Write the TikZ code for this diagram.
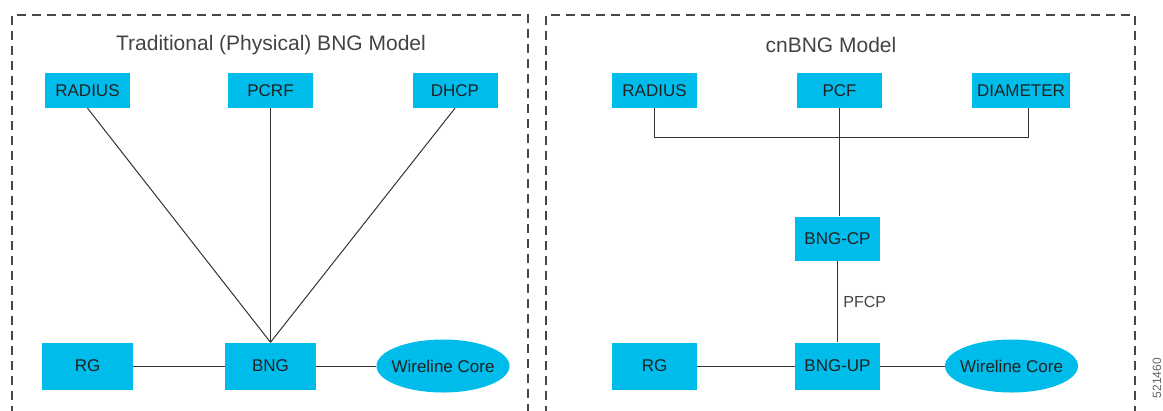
\documentclass[tikz,border=0pt]{standalone}
\usepackage{fontspec}
\setmainfont{Liberation Sans}
\usetikzlibrary{shapes.geometric}
\definecolor{cblue}{HTML}{00BCEB}
\definecolor{ctext}{HTML}{222222}
\definecolor{cline}{HTML}{333333}
\begin{document}
\begin{tikzpicture}[x=1pt,y=-1pt,
  box/.style={fill=cblue, draw=none, minimum width=85pt, minimum height=35pt, inner sep=0pt, font=\fontsize{17}{19}\selectfont, text=ctext},
  bigbox/.style={box, minimum width=91pt, minimum height=47pt},
  cloud/.style={ellipse, fill=cblue, draw=none, minimum width=133pt, minimum height=53pt, inner xsep=-14pt, inner ysep=0pt, font=\fontsize{17}{19}\selectfont, text=ctext},
  frame/.style={draw=cline!90, line width=2pt, dash pattern=on 9pt off 6pt},
  conn/.style={draw=cline, line width=1pt},
  title/.style={font=\fontsize{21}{23}\selectfont, text=ctext!85}]
\useasboundingbox (0,0) rectangle (1163,410);
\begin{scope}
\clip (0,0) rectangle (1163,410);
\draw[frame] (12,430) -- (12,15) -- (528,15) -- (528,430);
\draw[frame] (546,430) -- (546,15) -- (1135,15) -- (1135,430);
\end{scope}
% left
\node[title] (t1) at (271,45) {Traditional (Physical) BNG Model};
\node[box] (radius1) at (87.5,90.5) {RADIUS};
\node[box] (pcrf) at (270.5,90.5) {PCRF};
\node[box] (dhcp) at (455,90.5) {DHCP};
\node[bigbox] (rg1) at (87.5,366) {RG};
\node[bigbox] (bng) at (270.5,366) {BNG};
\node[cloud] (wc1) at (443,366) {Wireline Core};
\draw[conn] (radius1.south) -- (bng.north);
\draw[conn] (pcrf.south) -- (bng.north);
\draw[conn] (dhcp.south) -- (bng.north);
\draw[conn] (rg1.east) -- (bng.west);
\draw[conn] (bng.east) -- (wc1.west);
% right
\node[title] (t2) at (831,45) {cnBNG Model};
\node[box] (radius2) at (654.5,90.5) {RADIUS};
\node[box] (pcf) at (839.5,90.5) {PCF};
\node[box, minimum width=98pt] (diam) at (1021,90.5) {DIAMETER};
\node[box, minimum height=44pt] (bngcp) at (837.5,238.5) {BNG-CP};
\node[bigbox, minimum width=85pt] (bngup) at (837.5,366) {BNG-UP};
\node[bigbox, minimum width=85pt] (rg2) at (654.5,366) {RG};
\node[cloud] (wc2) at (1011.5,366) {Wireline Core};
\coordinate (busl) at (radius2.south |- 0,137);
\coordinate (busr) at (1028,137);
\draw[conn] (radius2.south) -- (busl) -- (busr) -- (busr |- diam.south);
\draw[conn] (pcf.south) -- (pcf.south |- bngcp.north);
\draw[conn] (bngcp.south) -- node[right=2pt, pos=0.5, font=\fontsize{16}{18}\selectfont, text=ctext!85] {PFCP} (bngup.north);
\draw[conn] (rg2.east) -- (bngup.west);
\draw[conn] (bngup.east) -- (wc2.west);
\node[rotate=90, font=\fontsize{12}{13}\selectfont, text=ctext!70] (id) at (1157,378) {521460};
\end{tikzpicture}
\end{document}
